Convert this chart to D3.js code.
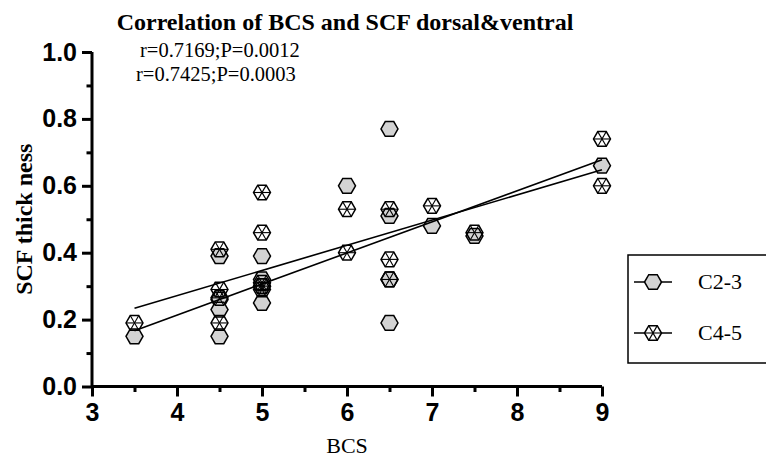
<!DOCTYPE html>
<html><head><meta charset="utf-8">
<script src="https://cdn.jsdelivr.net/npm/d3@7"></script>
<style>html,body{margin:0;padding:0;background:#fff;}svg{display:block;}</style>
</head><body><svg id="c" width="766" height="459"></svg>
<script>
// ---- data ----
const titleText = "Correlation of BCS and SCF dorsal&ventral";
const statLines = ["r=0.7169;P=0.0012", "r=0.7425;P=0.0003"];
const xTicks = [3, 4, 5, 6, 7, 8, 9];
const xMinorTicks = [3.5, 4.5, 5.5, 6.5, 7.5, 8.5];
const yTicks = [0.0, 0.2, 0.4, 0.6, 0.8, 1.0];
const yMinorTicks = [0.1, 0.3, 0.5, 0.7, 0.9];
const seriesNames = ["C2-3", "C4-5"];
const c23X = [3.5, 4.5, 4.5, 4.5, 4.5, 5, 5, 5, 5, 6, 6.5, 6.5, 6.5, 6.5, 7, 7.5, 9];
const c23Y = [0.15, 0.39, 0.26, 0.23, 0.15, 0.39, 0.32, 0.30, 0.25, 0.60, 0.77, 0.51, 0.32, 0.19, 0.48, 0.45, 0.66];
const c45X = [3.5, 4.5, 4.5, 4.5, 4.5, 5, 5, 5, 5, 5, 6, 6, 6.5, 6.5, 6.5, 7, 7.5, 9, 9];
const c45Y = [0.19, 0.41, 0.29, 0.265, 0.19, 0.58, 0.46, 0.31, 0.30, 0.29, 0.53, 0.40, 0.53, 0.38, 0.32, 0.54, 0.46, 0.74, 0.60];
const fitX = [3.5, 9];
const fitC23 = [0.234, 0.648];
const fitC45 = [0.167, 0.678];

// ---- layout ----
const svg = d3.select("#c");
const x = d3.scaleLinear().domain([3, 9]).range([92, 602]);
const y = d3.scaleLinear().domain([0, 1]).range([386.5, 52]);
const serif = "'Liberation Serif','Times New Roman',serif";
const sans = "'Liberation Sans',Arial,sans-serif";
const R = 8.5;
function hexPts(r) {
  return d3.range(6).map(i => [r * Math.cos(i * Math.PI / 3), r * Math.sin(i * Math.PI / 3)]);
}
function drawHex(g, filled) {
  const pts = hexPts(R);
  g.append("path").attr("d", d3.line()(pts) + "Z")
    .attr("fill", filled ? "#d3d3d3" : "none").attr("stroke", "#000").attr("stroke-width", 1.5);
  if (!filled) {
    for (let i = 0; i < 3; i++) {
      g.append("line").attr("x1", pts[i][0]).attr("y1", pts[i][1])
        .attr("x2", pts[i + 3][0]).attr("y2", pts[i + 3][1])
        .attr("stroke", "#000").attr("stroke-width", 1.1);
    }
  }
}

// title & stats
svg.append("text").attr("x", 345).attr("y", 30).attr("text-anchor", "middle")
  .attr("font-family", serif).attr("font-weight", "bold").attr("font-size", 24).text(titleText);
svg.selectAll(".stat").data(statLines).join("text").attr("class", "stat")
  .attr("x", (d, i) => i === 0 ? 140 : 136).attr("y", (d, i) => 57 + i * 24)
  .attr("font-family", serif).attr("font-size", 20.5).text(d => d);

// axes
const axisG = svg.append("g");
const yAxis = axisG.append("g").attr("transform", `translate(${x(3)},0)`)
  .call(d3.axisLeft(y).tickValues(yTicks).tickFormat(d3.format(".1f")).tickSize(10).tickPadding(5));
const yMinor = axisG.append("g").attr("transform", `translate(${x(3)},0)`)
  .call(d3.axisLeft(y).tickValues(yMinorTicks).tickFormat("").tickSize(5.5));
const xAxis = axisG.append("g").attr("transform", `translate(0,${y(0)})`)
  .call(d3.axisBottom(x).tickValues(xTicks).tickFormat(d3.format("d")).tickSize(10).tickPadding(7));
const xMinor = axisG.append("g").attr("transform", `translate(0,${y(0)})`)
  .call(d3.axisBottom(x).tickValues(xMinorTicks).tickFormat("").tickSize(5.5));
axisG.selectAll("path.domain").attr("stroke-width", 3);
yAxis.select("path.domain").attr("d", `M0,${y(1)}V${y(0)}`);
xAxis.select("path.domain").attr("d", `M${x(3)},0H${x(9)}`);
yMinor.select("path.domain").remove();
xMinor.select("path.domain").remove();
axisG.selectAll("line").attr("stroke-width", 3);
axisG.selectAll("text").attr("font-family", sans).attr("font-weight", "bold").attr("font-size", 25).attr("fill", "#000");
xAxis.selectAll("text").attr("dy", "0.71em");

// axis labels
svg.append("text").attr("transform", `translate(32,${(y(0) + y(1)) / 2}) rotate(-90)`)
  .attr("text-anchor", "middle").attr("font-family", serif).attr("font-weight", "bold").attr("font-size", 24)
  .text("SCF thick ness");
svg.append("text").attr("x", 347).attr("y", 453).attr("text-anchor", "middle")
  .attr("font-family", serif).attr("font-size", 22).text("BCS");

// points
const c23 = c23X.map((v, i) => [v, c23Y[i]]);
const c45 = c45X.map((v, i) => [v, c45Y[i]]);
svg.append("g").selectAll("g").data(c23).join("g")
  .attr("transform", d => `translate(${x(d[0])},${y(d[1])})`).each(function() { drawHex(d3.select(this), true); });
svg.append("g").selectAll("g").data(c45).join("g")
  .attr("transform", d => `translate(${x(d[0])},${y(d[1])})`).each(function() { drawHex(d3.select(this), false); });

// fit lines
[fitC23, fitC45].forEach(f => {
  svg.append("path").attr("d", d3.line().x(d => x(d[0])).y(d => y(d[1]))(fitX.map((v, i) => [v, f[i]])))
    .attr("stroke", "#000").attr("stroke-width", 1.6).attr("fill", "none");
});

// legend
const lg = svg.append("g");
lg.append("rect").attr("x", 628).attr("y", 255).attr("width", 150).attr("height", 108)
  .attr("fill", "none").attr("stroke", "#000").attr("stroke-width", 1.5);
seriesNames.forEach((n, i) => {
  const cy = 282 + i * 51;
  lg.append("line").attr("x1", 634).attr("x2", 672).attr("y1", cy).attr("y2", cy).attr("stroke", "#000").attr("stroke-width", 1.5);
  const g = lg.append("g").attr("transform", `translate(653,${cy})`);
  if (i === 1) g.append("path").attr("d", d3.line()(hexPts(R)) + "Z").attr("fill", "#fff");
  drawHex(g, i === 0);
  lg.append("text").attr("x", 698).attr("y", cy + 7).attr("font-family", serif).attr("font-size", 22).text(n);
});
</script></body></html>
